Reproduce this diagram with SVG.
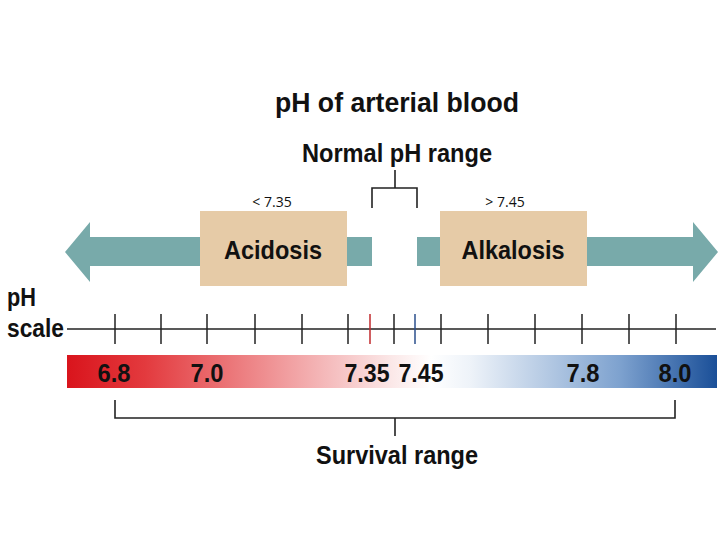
<svg xmlns="http://www.w3.org/2000/svg" width="720" height="540" viewBox="0 0 720 540">
<style>
.b{font-family:"Liberation Sans",Arial,sans-serif;font-weight:bold;fill:#111;}
.s{font-family:"Open Sans","Liberation Sans",sans-serif;font-size:14px;fill:#111;}
.ln{stroke:#222;stroke-width:1.6;fill:none;}
.tk{stroke:#222;stroke-width:1.5;}
.box{fill:#e6cba7;}
.arr{fill:#78aaaa;}
</style>
<defs>
<linearGradient id="g" x1="0" x2="1" y1="0" y2="0">
<stop offset="0" stop-color="#d9141c"/>
<stop offset="0.12" stop-color="#e33a3e"/>
<stop offset="0.5" stop-color="#fbe8e8"/>
<stop offset="0.56" stop-color="#ffffff"/>
<stop offset="0.62" stop-color="#eef3f9"/>
<stop offset="0.85" stop-color="#7ea2cf"/>
<stop offset="1" stop-color="#1a4f98"/>
</linearGradient>
</defs>
<rect width="720" height="540" fill="#fff"/>
<g id="title">
<text class="b" x="397" y="112" font-size="28" text-anchor="middle" textLength="244" lengthAdjust="spacingAndGlyphs">pH of arterial blood</text>
</g>
<g id="normal-range">
<text class="b" x="397" y="162" font-size="25" text-anchor="middle" textLength="190" lengthAdjust="spacingAndGlyphs">Normal pH range</text>
<path class="ln" d="M395 170V188M372 208V188H417V208"/>
</g>
<g id="arrows">
<polygon class="arr" points="65,252 90,222 90,237 372,237 372,266 90,266 90,282"/>
<polygon class="arr" points="718,252 693,222 693,237 417,237 417,266 693,266 693,282"/>
</g>
<g id="acidosis">
<text class="s" x="272" y="207" text-anchor="middle">&lt; 7.35</text>
<rect class="box" x="200" y="211" width="147" height="75"/>
<text class="b" x="273" y="259" font-size="26" text-anchor="middle" textLength="98" lengthAdjust="spacingAndGlyphs">Acidosis</text>
</g>
<g id="alkalosis">
<text class="s" x="505" y="207" text-anchor="middle">&gt; 7.45</text>
<rect class="box" x="440" y="211" width="147" height="75"/>
<text class="b" x="513" y="259" font-size="26" text-anchor="middle" textLength="103" lengthAdjust="spacingAndGlyphs">Alkalosis</text>
</g>
<g id="ph-scale">
<text class="b" x="7" y="306" font-size="26" textLength="29" lengthAdjust="spacingAndGlyphs">pH</text>
<text class="b" x="7" y="337" font-size="26" textLength="57" lengthAdjust="spacingAndGlyphs">scale</text>
<line class="tk" x1="67" y1="329" x2="716" y2="329"/>
<g class="tk">
<line x1="115" y1="314" x2="115" y2="344"/>
<line x1="161" y1="314" x2="161" y2="344"/>
<line x1="207" y1="314" x2="207" y2="344"/>
<line x1="255" y1="314" x2="255" y2="344"/>
<line x1="302" y1="314" x2="302" y2="344"/>
<line x1="348" y1="314" x2="348" y2="344"/>
<line x1="394" y1="314" x2="394" y2="344"/>
<line x1="441" y1="314" x2="441" y2="344"/>
<line x1="488" y1="314" x2="488" y2="344"/>
<line x1="535" y1="314" x2="535" y2="344"/>
<line x1="582" y1="314" x2="582" y2="344"/>
<line x1="629" y1="314" x2="629" y2="344"/>
<line x1="676" y1="314" x2="676" y2="344"/>
</g>
<line x1="370" y1="314" x2="370" y2="344" stroke="#c0282c" stroke-width="1.5"/>
<line x1="415" y1="314" x2="415" y2="344" stroke="#2b4f8c" stroke-width="1.5"/>
</g>
<g id="gradient-bar">
<rect x="67" y="355" width="650" height="33" fill="url(#g)"/>
<g class="b" font-size="25" text-anchor="middle">
<text x="114" y="382" textLength="33" lengthAdjust="spacingAndGlyphs">6.8</text>
<text x="207" y="382" textLength="33" lengthAdjust="spacingAndGlyphs">7.0</text>
<text x="367" y="382" textLength="45" lengthAdjust="spacingAndGlyphs">7.35</text>
<text x="421" y="382" textLength="45" lengthAdjust="spacingAndGlyphs">7.45</text>
<text x="583" y="382" textLength="33" lengthAdjust="spacingAndGlyphs">7.8</text>
<text x="675" y="382" textLength="33" lengthAdjust="spacingAndGlyphs">8.0</text>
</g>
</g>
<g id="survival-range">
<path class="ln" d="M115 400V418H675V400M395 418V436"/>
<text class="b" x="397" y="464" font-size="25" text-anchor="middle" textLength="162" lengthAdjust="spacingAndGlyphs">Survival range</text>
</g>
</svg>
